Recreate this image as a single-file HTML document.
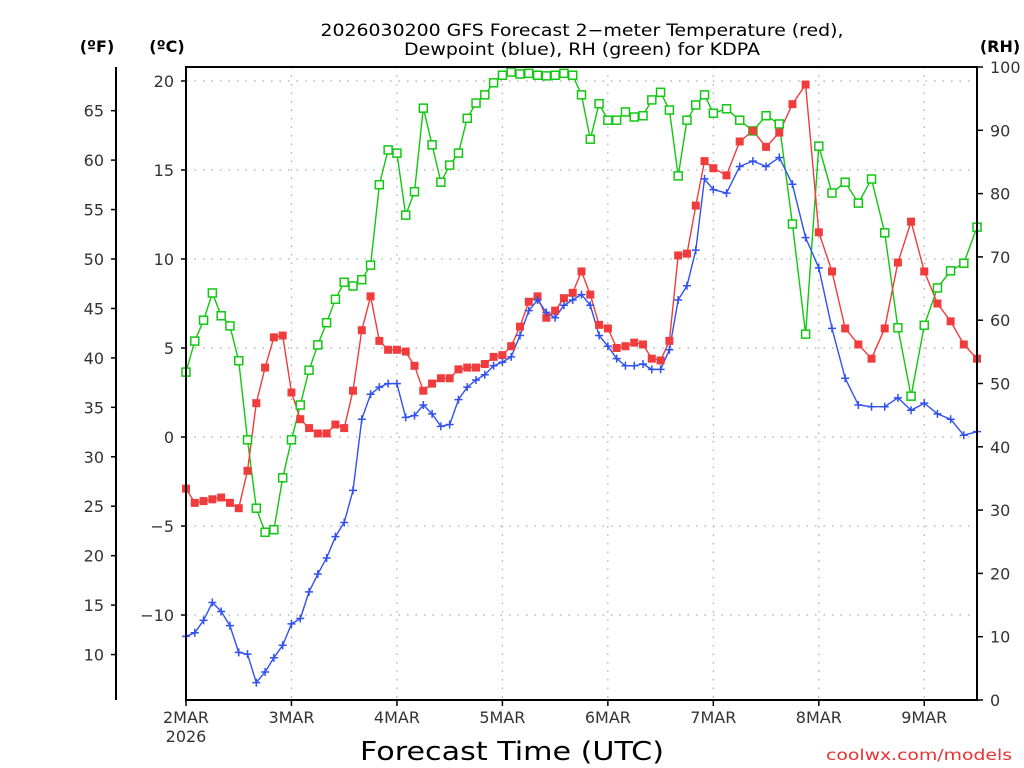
<!DOCTYPE html>
<html><head><meta charset="utf-8">
<style>
body{margin:0;background:#fff;}
svg{display:block;font-family:"DejaVu Sans","Liberation Sans",sans-serif;}
</style></head>
<body>
<svg id="chart" width="1024" height="768" viewBox="0 0 1024 768" xmlns="http://www.w3.org/2000/svg">
<rect width="1024" height="768" fill="#fff"/>
<text x="582" y="36" font-size="17" text-anchor="middle" textLength="523" lengthAdjust="spacingAndGlyphs">2026030200 GFS Forecast 2−meter Temperature (red),</text>
<text x="582" y="55" font-size="17" text-anchor="middle" textLength="356" lengthAdjust="spacingAndGlyphs">Dewpoint (blue), RH (green) for KDPA</text>
<text x="97" y="52" font-size="16" font-weight="bold" text-anchor="middle">(ºF)</text>
<text x="167" y="52" font-size="16" font-weight="bold" text-anchor="middle">(ºC)</text>
<text x="1000" y="52" font-size="16" font-weight="bold" text-anchor="middle">(RH)</text>
<text x="512" y="760" font-size="26" text-anchor="middle" textLength="304" lengthAdjust="spacingAndGlyphs">Forecast Time (UTC)</text>
<text x="919" y="760" font-size="15" fill="#e83030" text-anchor="middle" textLength="186" lengthAdjust="spacingAndGlyphs">coolwx.com/models</text>
<g id="grid"></g><g id="axes"></g><g id="series"></g>
<rect x="186" y="67" width="791" height="633" fill="none" stroke="#000" stroke-width="2"/>
</svg>
<script>
const hours = [0,2,4,6,8,10,12,14,16,18,20,22,24,26,28,30,32,34,36,38,40,42,44,46,48,50,52,54,56,58,60,62,64,66,68,70,72,74,76,78,80,82,84,86,88,90,92,94,96,98,100,102,104,106,108,110,112,114,116,118,120,123,126,129,132,135,138,141,144,147,150,153,156,159,162,165,168,171,174,177,180];
const tempC = [-2.9,-3.7,-3.6,-3.5,-3.4,-3.7,-4.0,-1.9,1.9,3.9,5.6,5.7,2.5,1.0,0.5,0.2,0.2,0.7,0.5,2.6,6.0,7.9,5.4,4.9,4.9,4.8,4.0,2.6,3.0,3.3,3.3,3.8,3.9,3.9,4.1,4.5,4.6,5.1,6.2,7.6,7.9,6.7,7.1,7.8,8.1,9.3,8.0,6.3,6.1,5.0,5.1,5.3,5.2,4.4,4.3,5.4,10.2,10.3,13.0,15.5,15.1,14.7,16.6,17.2,16.3,17.1,18.7,19.8,11.5,9.3,6.1,5.2,4.4,6.1,9.8,12.1,9.3,7.5,6.5,5.2,4.4];
const dewC = [-11.2,-11.0,-10.3,-9.3,-9.8,-10.6,-12.1,-12.2,-13.8,-13.2,-12.4,-11.7,-10.5,-10.2,-8.7,-7.7,-6.8,-5.6,-4.8,-3.0,1.0,2.4,2.8,3.0,3.0,1.1,1.2,1.8,1.3,0.6,0.7,2.1,2.8,3.2,3.5,4.0,4.2,4.5,5.7,7.1,7.7,7.0,6.7,7.4,7.7,8.0,7.4,5.7,5.1,4.4,4.0,4.0,4.1,3.8,3.8,4.9,7.7,8.5,10.5,14.5,13.9,13.7,15.2,15.5,15.2,15.7,14.2,11.2,9.5,6.1,3.3,1.8,1.7,1.7,2.2,1.5,1.9,1.3,1.0,0.1,0.3];
const rhPct = [51.8,56.7,60.0,64.3,60.7,59.1,53.6,41.1,30.3,26.5,26.9,35.1,41.1,46.6,52.1,56.1,59.6,63.3,66.0,65.4,66.4,68.7,81.4,86.9,86.4,76.6,80.3,93.5,87.7,81.8,84.5,86.4,91.9,94.3,95.6,97.5,98.7,99.2,98.9,99.0,98.7,98.6,98.7,99.0,98.7,95.6,88.6,94.2,91.6,91.6,92.9,92.1,92.3,94.8,96.0,93.2,82.8,91.6,94.0,95.6,92.7,93.4,91.6,89.9,92.3,91.0,75.2,57.8,87.5,80.1,81.8,78.5,82.3,73.8,58.8,48.0,59.2,65.1,67.8,69.0,74.7];
const celsiusTicks = [20,15,10,5,0,-5,-10];
const fahrenheitTicks = [65,60,55,50,45,40,35,30,25,20,15,10];
const rhTicks = [100,90,80,70,60,50,40,30,20,10,0];
const dayLabels = ["2MAR","3MAR","4MAR","5MAR","6MAR","7MAR","8MAR","9MAR"];

const NS="http://www.w3.org/2000/svg";
const X0=186,X1=977,Y0=67,Y1=700;
const xScale=h=>X0+h*(X1-X0)/180;
const yC=c=>437-c*17.8;
const yF=f=>yC((f-32)/1.8);
const yRH=r=>Y1-r*(Y1-Y0)/100;
function mk(tag,attrs,parent){const e=document.createElementNS(NS,tag);for(const k in attrs)e.setAttribute(k,attrs[k]);parent.appendChild(e);return e;}
const grid=document.getElementById('grid'),axes=document.getElementById('axes'),ser=document.getElementById('series');

celsiusTicks.forEach(c=>{const y=yC(c);
 const g=mk('line',{x1:X0,x2:X1,y1:y,y2:y,stroke:'#aaa','stroke-width':1.2,'stroke-dasharray':'1.5 7'},grid);
 
 
 mk('line',{x1:X0-5,x2:X0,y1:y,y2:y,stroke:'#000','stroke-width':1.5},axes);
 const t=mk('text',{x:X0-12,y:y+6,'font-size':16,'text-anchor':'end',fill:'#333'},axes);t.textContent=c<0?'−'+(-c):c;
 
 
});
mk('line',{x1:116,x2:116,y1:Y0,y2:Y1,stroke:'#000','stroke-width':2},axes);
fahrenheitTicks.forEach(f=>{const y=yF(f);
 mk('line',{x1:111,x2:116,y1:y,y2:y,stroke:'#000','stroke-width':1.5},axes);
 const t=mk('text',{x:104,y:y+6,'font-size':16,'text-anchor':'end',fill:'#333'},axes);t.textContent=f;
 
 
});
rhTicks.forEach(r=>{const y=yRH(r);
 mk('line',{x1:X1,x2:X1+6,y1:y,y2:y,stroke:'#000','stroke-width':1.5},axes);
 const t=mk('text',{x:X1+13,y:y+6,'font-size':16,fill:'#333'},axes);t.textContent=r;
 
 
});
dayLabels.forEach((d,i)=>{const x=xScale(i*24);
 if(i>0){const g=mk('line',{x1:x,x2:x,y1:Y0,y2:Y1,stroke:'#aaa','stroke-width':1.2,'stroke-dasharray':'1.5 7'},grid);
  
  }
 mk('line',{x1:x,x2:x,y1:Y1,y2:Y1+6,stroke:'#000','stroke-width':1.5},axes);
 const t=mk('text',{x:x,y:723,'font-size':16,'text-anchor':'middle',fill:'#333'},axes);t.textContent=d;
 
 
});
const yr=mk('text',{x:186,y:742,'font-size':16,'text-anchor':'middle',fill:'#333'},axes);yr.textContent='2026';



function line(vals,yf,color,name){
 const pts=vals.map((v,i)=>xScale(hours[i]).toFixed(1)+','+yf(v).toFixed(1)).join(' ');
 const p=mk('polyline',{points:pts,fill:'none',stroke:color,'stroke-width':1.4},ser);
 
 
}
line(rhPct,yRH,'#10c810','rh-line');
line(tempC,yC,'#f03c3c','temperature-line');
line(dewC,yC,'#3050f0','dewpoint-line');
rhPct.forEach((v,i)=>{const x=xScale(hours[i]),y=yRH(v);
 const m=mk('rect',{x:x-4,y:y-4,width:8,height:8,fill:'#fff',stroke:'#10c810','stroke-width':1.5},ser);
 
 
});
tempC.forEach((v,i)=>{const x=xScale(hours[i]),y=yC(v);
 const m=mk('rect',{x:x-4,y:y-4,width:8,height:8,fill:'#f03c3c'},ser);
 
 
});
dewC.forEach((v,i)=>{const x=xScale(hours[i]),y=yC(v);
 const m=mk('path',{d:`M${x-4},${y}H${x+4}M${x},${y-4}V${y+4}`,stroke:'#3050f0','stroke-width':1.5},ser);
 
 
});
</script>
</body></html>
